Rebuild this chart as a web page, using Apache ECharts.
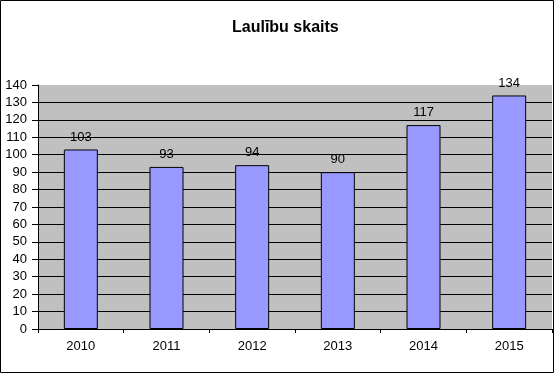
<!DOCTYPE html>
<html>
<head>
<meta charset="utf-8">
<script src="https://cdn.jsdelivr.net/npm/echarts@6/dist/echarts.min.js"></script>
<style>html,body{margin:0;padding:0;background:#fff}#c{width:554px;height:373px}</style>
</head>
<body>
<div id="c"></div>
<script>
const title = "Laulību skaits";
const categories = ["2010", "2011", "2012", "2013", "2014", "2015"];
const values = [103, 93, 94, 90, 117, 134];
const yMin = 0, yMax = 140, yStep = 10;

const chart = echarts.init(document.getElementById('c'), null, {renderer: 'canvas'});
chart.setOption({
  animation: false,
  backgroundColor: '#ffffff',
  title: {
    text: title, left: 227, top: 15,
    textStyle: {fontFamily: 'Liberation Sans, Arial', fontSize: 16, fontWeight: 'bold', color: '#000'}
  },
  graphic: [{
    type: 'rect', shape: {x: 0.5, y: 0.5, width: 553, height: 372},
    style: {fill: 'none', stroke: '#000', lineWidth: 1}, z: 100
  }],
  grid: {left: 38, right: 2, top: 85, bottom: 44, show: true, backgroundColor: '#C0C0C0', borderWidth: 0},
  xAxis: {
    type: 'category', data: categories,
    axisLine: {lineStyle: {color: '#000', width: 1}},
    axisTick: {show: true, length: 4, lineStyle: {color: '#000'}, alignWithLabel: false},
    axisLabel: {fontFamily: 'Liberation Sans, Arial', fontSize: 13, color: '#000', margin: 11}
  },
  yAxis: {
    type: 'value', min: yMin, max: yMax, interval: yStep,
    axisLine: {show: true, lineStyle: {color: '#000', width: 1}},
    axisTick: {show: true, length: 6, lineStyle: {color: '#000'}},
    axisLabel: {fontFamily: 'Liberation Sans, Arial', fontSize: 13, color: '#000', margin: 11},
    splitLine: {show: true, showMaxLine: false, lineStyle: {color: '#000', width: 1}}
  },
  series: [{
    type: 'bar', data: values, barWidth: 34,
    itemStyle: {color: '#9999FF', borderColor: '#000', borderWidth: 1},
    label: {show: true, position: 'top', distance: 6, fontFamily: 'Liberation Sans, Arial', fontSize: 13, color: '#000'}
  }]
});
</script>
</body>
</html>
